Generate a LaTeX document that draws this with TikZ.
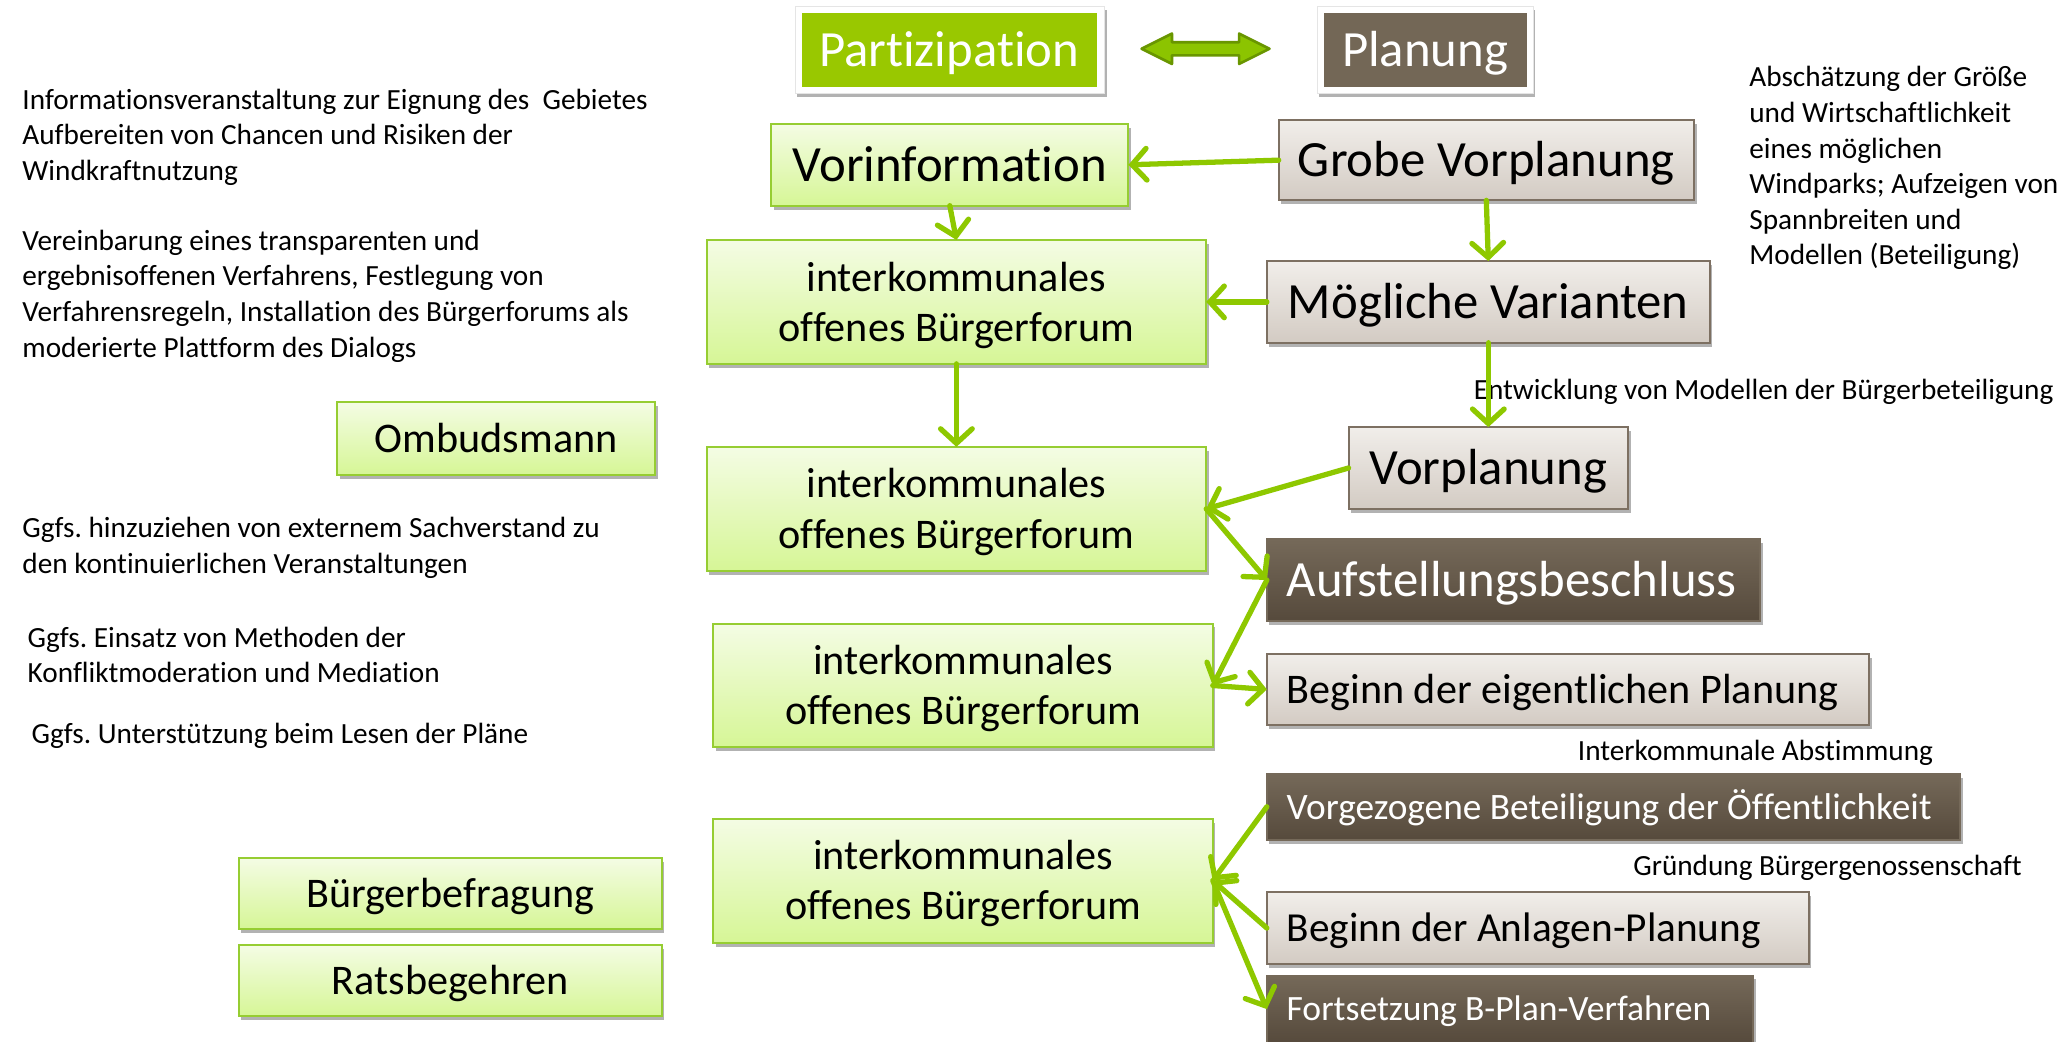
\documentclass[tikz,border=0pt]{standalone}
\usepackage{fontspec}
\setmainfont{Carlito}[Ligatures=NoCommon]
\frenchspacing
\usetikzlibrary{arrows.meta,shadows}
\definecolor{arrowgreen}{RGB}{142,200,0}
\definecolor{gborder}{RGB}{150,205,50}
\definecolor{gtop}{RGB}{244,252,228}
\definecolor{gbot}{RGB}{214,246,150}
\definecolor{graytop}{RGB}{241,238,234}
\definecolor{graybot}{RGB}{211,203,195}
\definecolor{grayborder}{RGB}{125,112,98}
\definecolor{browntop}{RGB}{117,105,89}
\definecolor{brownbot}{RGB}{86,74,60}
\definecolor{hdrgreen}{RGB}{153,200,0}
\definecolor{hdrbrown}{RGB}{115,103,86}
\definecolor{dblfill}{RGB}{140,196,0}
\definecolor{dbldraw}{RGB}{105,150,0}
\newcommand{\FBig}{\fontsize{38.5}{46}\selectfont}
\newcommand{\FMid}{\fontsize{32}{38}\selectfont}
\newcommand{\FForum}{\fontsize{32}{38}\selectfont}
\newcommand{\FSmall}{\fontsize{22.2}{27}\selectfont}
\newcommand{\LBox}[2]{\makebox[#1][l]{#2}}
\tikzset{
  basebox/.style={inner sep=2pt, outer sep=0pt, anchor=north west, line width=1.5pt,
    drop shadow={shadow xshift=2pt, shadow yshift=-3pt, opacity=0.3, fill=black}},
  greenbox/.style={basebox, draw=gborder, top color=gtop, bottom color=gbot, text=black},
  graybox/.style={basebox, draw=grayborder, top color=graytop, bottom color=graybot, text=black},
  brownbox/.style={basebox, draw=browntop, top color=browntop, bottom color=brownbot, text=white},
  big/.style={font=\FBig, text height=32pt, text depth=7pt},
  mid/.style={font=\FMid, text height=27pt, text depth=6pt},
  leftpad/.style={inner xsep=15pt},
  forumtext/.style={font=\FForum, align=center},
  frame/.style={anchor=north west, inner sep=0pt, outer sep=0pt, fill=white,
    draw=black!10, line width=0.6pt,
    drop shadow={shadow xshift=1.5pt, shadow yshift=-2.5pt, opacity=0.3, fill=black}},
  hdr/.style={anchor=north west, inner sep=0pt, outer sep=0pt, text=white, font=\FBig,
    text height=32pt, text depth=7pt},
  note/.style={anchor=north west, inner sep=0pt, outer sep=0pt, font=\FSmall, align=left},
  conn/.style={draw=arrowgreen, line width=4pt, line cap=round,
    -{Straight Barb[length=11pt, width=24pt, line cap=round]}}
}
\begin{document}
\begin{tikzpicture}[x=1pt, y=-1pt]
\clip (0,0) rectangle (1568,790);
\fill[white] (0,0) rectangle (1568,790);

% header
\node[frame, minimum width=235pt, minimum height=66pt] (partframe) at (603,5) {};
\node[hdr, fill=hdrgreen, minimum width=224pt, minimum height=56pt] (part) at (608,10) {Partizipation};
\node[frame, minimum width=164pt, minimum height=66pt] (planframe) at (999,5) {};
\node[hdr, fill=hdrbrown, minimum width=154pt, minimum height=56pt] (plan) at (1004,10) {Planung};
\draw[fill=dblfill, draw=dbldraw, line width=2pt, line join=round]
  (866,37) -- (889,25.5) -- (889,32) -- (940,32) -- (940,25.5) -- (963,37)
  -- (940,48.5) -- (940,42) -- (889,42) -- (889,48.5) -- cycle;

% participation column
\node[greenbox, big, minimum width=271pt, minimum height=62pt] (vorinfo) at (585,94) {Vorinformation};
\node[greenbox, forumtext, minimum width=379pt, minimum height=94pt] (f1) at (536,182) {\rule{0pt}{27pt}interkommunales\\offenes Bürgerforum};
\node[greenbox, mid, minimum width=241pt, minimum height=55pt] (omb) at (256,305) {Ombudsmann};
\node[greenbox, forumtext, minimum width=379pt, minimum height=94pt] (f2) at (536,339) {\rule{0pt}{27pt}interkommunales\\offenes Bürgerforum};
\node[greenbox, forumtext, minimum width=379pt, minimum height=94pt] (f3) at (541,473) {\rule{0pt}{27pt}interkommunales\\offenes Bürgerforum};
\node[greenbox, forumtext, minimum width=379pt, minimum height=94pt] (f4) at (541,621) {\rule{0pt}{27pt}interkommunales\\offenes Bürgerforum};
\node[greenbox, mid, minimum width=321pt, minimum height=54pt] (befr) at (181,651) {Bürgerbefragung};
\node[greenbox, mid, minimum width=321pt, minimum height=54pt] (rats) at (181,717) {Ratsbegehren};

% planning column
\node[graybox, big, minimum width=315pt, minimum height=61pt] (grobe) at (970,91) {Grobe Vorplanung};
\node[graybox, big, minimum width=336pt, minimum height=62pt] (var) at (961,198) {Mögliche Varianten};
\node[graybox, big, minimum width=212pt, minimum height=62pt] (vorpl) at (1023,324) {Vorplanung};
\node[brownbox, big, leftpad, minimum height=62pt] (aufst) at (961,409) {\LBox{344pt}{Aufstellungsbeschluss}};
\node[graybox, mid, leftpad, minimum height=54pt] (beg1) at (961,496) {\LBox{427pt}{Beginn der eigentlichen Planung}};
\node[brownbox, font=\fontsize{28.3}{34}\selectfont, text height=24pt, text depth=5pt, leftpad, minimum height=50pt] (vorgez) at (961,587) {\LBox{496pt}{Vorgezogene Beteiligung der Öffentlichkeit}};
\node[graybox, font=\fontsize{31.3}{38}\selectfont, text height=26.5pt, text depth=5.8pt, leftpad, minimum height=54pt] (anl) at (961,677) {\LBox{381pt}{Beginn der Anlagen-Planung}};
\node[brownbox, font=\fontsize{27}{33}\selectfont, text height=22.7pt, text depth=4.9pt, leftpad, minimum height=51pt] (forts) at (961,740) {\LBox{339pt}{Fortsetzung B-Plan-Verfahren}};

% notes
\node[note] (n1) at (17,64) {\strut Informationsveranstaltung zur Eignung des\ \ Gebietes\\Aufbereiten von Chancen und Risiken der\\Windkraftnutzung};
\node[note] (n2) at (17,171) {\strut Vereinbarung eines transparenten und\\ergebnisoffenen Verfahrens, Festlegung von\\Verfahrensregeln, Installation des Bürgerforums als\\moderierte Plattform des Dialogs};
\node[note] (n3) at (17,389) {\strut Ggfs. hinzuziehen von externem Sachverstand zu\\den kontinuierlichen Veranstaltungen};
\node[note] (n4) at (21,472) {\strut Ggfs. Einsatz von Methoden der\\Konfliktmoderation und Mediation};
\node[note] (n5) at (24,545) {\strut Ggfs. Unterstützung beim Lesen der Pläne};
\node[note] (n6) at (1327,47) {\strut Abschätzung der Größe\\und Wirtschaftlichkeit\\eines möglichen\\Windparks; Aufzeigen von\\Spannbreiten und\\Modellen (Beteiligung)};
\node[note] (n7) at (1118,284) {\strut Entwicklung von Modellen der Bürgerbeteiligung};
\node[note] (n8) at (1197,558) {\strut Interkommunale Abstimmung};
\node[note] (n9) at (1239,645) {\strut Gründung Bürgergenossenschaft};

% connectors
\draw[conn] (grobe.west) -- (vorinfo.east);
\draw[conn] (vorinfo.south) -- (f1.north);
\draw[conn] (grobe.south) -- (var.north);
\draw[conn] (var.west) -- (f1.east);
\draw[conn] (f1.south) -- (f2.north);
\draw[conn] (var.south) -- (vorpl.north);
\draw[conn] (vorpl.west) -- (f2.east);
\draw[conn] (f2.east) -- (aufst.west);
\draw[conn] (aufst.west) -- (f3.east);
\draw[conn] (f3.east) -- (beg1.west);
\draw[conn] (vorgez.west) -- (f4.east);
\draw[conn] (anl.west) -- (f4.east);
\draw[conn] (f4.east) -- (forts.west);
\end{tikzpicture}
\end{document}
